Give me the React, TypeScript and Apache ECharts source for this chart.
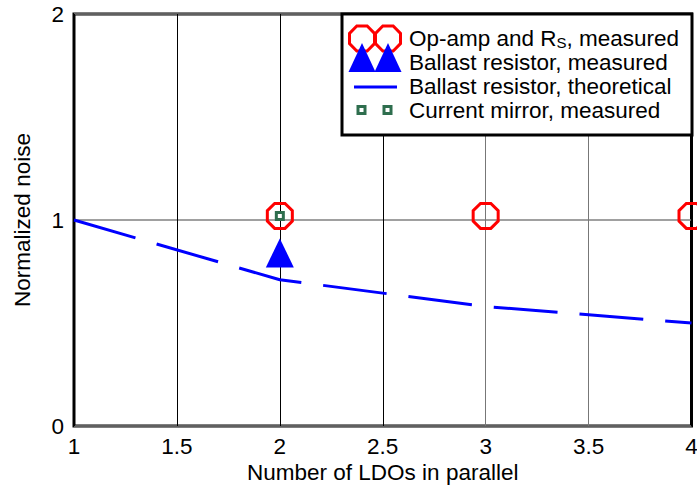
import { useEffect, useRef } from "react";
import * as echarts from "echarts";

// ---- data ----
const xMin = 1;
const xMax = 4;
const xInterval = 0.5;
const yMin = 0;
const yMax = 2;
const yInterval = 1;

const opampX = [2, 3, 4];
const opampY = [1.02, 1.02, 1.02];

const ballastMeasX = [2];
const ballastMeasY = [0.84];

const ballastTheoX = [1, 2, 3, 4];
const ballastTheoY = [1.0, 0.71, 0.58, 0.5];

const mirrorX = [2];
const mirrorY = [1.02];

const seriesNames = [
  "Op-amp and RS, measured",
  "Ballast resistor, measured",
  "Ballast resistor, theoretical",
  "Current mirror, measured",
];
const legendTexts = [
  "{a|Op-amp and R}{s|S}{a|, measured}",
  "Ballast resistor, measured",
  "Ballast resistor, theoretical",
  "Current mirror, measured",
];

const xName = "Number of LDOs in parallel";
const yName = "Normalized noise";

const FONT = "'Liberation Sans', Arial, sans-serif";
const FS = 22.5;
const RED = "#ff0000";
const BLUE = "#0000ff";
const GREEN = "#2e6e4e";

const OCTAGON =
  "path://M29.3,0 L70.7,0 L100,29.3 L100,70.7 L70.7,100 L29.3,100 L0,70.7 L0,29.3 Z";

function octPoints(cx: number, cy: number, d: number) {
  const h = d / 2;
  const k = h * 0.414;
  return [
    [cx - k, cy - h],
    [cx + k, cy - h],
    [cx + h, cy - k],
    [cx + h, cy + k],
    [cx + k, cy + h],
    [cx - k, cy + h],
    [cx - h, cy + k],
    [cx - h, cy - k],
  ];
}

function zip(xs: number[], ys: number[]) {
  return xs.map((x, i) => [x, ys[i]]);
}

export default function App() {
  const ref = useRef<HTMLDivElement>(null);

  useEffect(() => {
    if (!ref.current) return;
    const chart = echarts.init(ref.current, undefined, { renderer: "svg" });

    const legendX = 342;
    const legendY = 14;
    const iconA = 362;
    const iconB = 388;
    const rowY = [38, 62, 86, 110];
    const textX = 409;

    const graphics: any[] = [
      {
        type: "rect",
        z: 100,
        shape: { x: legendX, y: legendY, width: 350, height: 121 },
        style: { fill: "#ffffff", stroke: "#000000", lineWidth: 3 },
      },
      ...[iconA, iconB].map((cx) => ({
        type: "polygon",
        z: 101,
        shape: { points: octPoints(cx, 38.5, 25) },
        style: { fill: "none", stroke: RED, lineWidth: 3 },
      })),
      ...[iconA, iconB].map((cx) => ({
        type: "polygon",
        z: 102,
        shape: {
          points: [
            [cx, 43],
            [cx - 13.5, 72],
            [cx + 13.5, 72],
          ],
        },
        style: { fill: BLUE },
      })),
      {
        type: "line",
        z: 101,
        shape: { x1: 354, y1: 87, x2: 397, y2: 87 },
        style: { stroke: BLUE, lineWidth: 3 },
      },
      ...[iconA - 0.5, iconB - 0.5].map((cx) => ({
        type: "rect",
        z: 101,
        shape: { x: cx - 3.5, y: 110 - 3.5, width: 7, height: 7 },
        style: { fill: "#ffffff", stroke: GREEN, lineWidth: 3 },
      })),
      ...legendTexts.map((t, i) => ({
        type: "text",
        z: 103,
        x: textX,
        y: rowY[i],
        style: {
          text: t,
          fill: "#000000",
          fontSize: FS,
          fontFamily: FONT,
          verticalAlign: "middle",
          align: "left",
          rich: {
            a: { fontSize: FS, fontFamily: FONT, fill: "#000000", lineHeight: 23 },
            s: {
              fontSize: 15,
              fontFamily: FONT,
              fill: "#000000",
              lineHeight: 12,
              verticalAlign: "bottom",
            },
          },
        },
      })),
    ];

    chart.setOption({
      animation: false,
      backgroundColor: "#ffffff",
      grid: {
        left: 74,
        right: 5.5,
        top: 14,
        bottom: 60,
        containLabel: false,
        outerBoundsMode: "none",
        show: true,
        borderColor: "#000000",
        borderWidth: 3,
        backgroundColor: "transparent",
      },
      xAxis: {
        type: "value",
        min: xMin,
        max: xMax,
        interval: xInterval,
        name: xName,
        nameLocation: "middle",
        nameGap: 36,
        nameMoveOverlap: false,
        nameTextStyle: {
          fontSize: FS,
          fontFamily: FONT,
          color: "#000",
          lineHeight: 20,
        },
        axisLine: { show: false },
        axisTick: { show: false },
        axisLabel: {
          fontSize: FS,
          fontFamily: FONT,
          color: "#000",
          margin: 10,
          lineHeight: 20,
        },
        splitLine: {
          show: true,
          lineStyle: {
            color: ["#000", "#000", "#000", "#000", "#777", "#777", "#000"],
            width: 1,
          },
        },
      },
      yAxis: {
        type: "value",
        min: yMin,
        max: yMax,
        interval: yInterval,
        name: yName,
        nameLocation: "middle",
        nameGap: 40,
        nameMoveOverlap: false,
        nameTextStyle: { fontSize: FS, fontFamily: FONT, color: "#000" },
        axisLine: { show: false },
        axisTick: { show: false },
        axisLabel: { fontSize: FS, fontFamily: FONT, color: "#000", margin: 10 },
        splitLine: { show: true, lineStyle: { color: "#808080", width: 1.5 } },
      },
      graphic: graphics,
      series: [
        {
          name: seriesNames[2],
          type: "line",
          data: zip(ballastTheoX, ballastTheoY),
          showSymbol: false,
          symbol: "none",
          z: 2,
          lineStyle: { color: BLUE, width: 3, type: [64, 22], cap: "butt" },
        },
        {
          name: seriesNames[1],
          type: "scatter",
          data: zip(ballastMeasX, ballastMeasY),
          symbol: "triangle",
          symbolSize: [28, 29],
          clip: false,
          z: 3,
          itemStyle: { color: BLUE, opacity: 1 },
        },
        {
          name: seriesNames[0],
          type: "scatter",
          data: zip(opampX, opampY),
          symbol: OCTAGON,
          symbolSize: 25,
          clip: false,
          z: 4,
          itemStyle: {
            color: "transparent",
            borderColor: RED,
            borderWidth: 3,
            opacity: 1,
          },
        },
        {
          name: seriesNames[3],
          type: "scatter",
          data: zip(mirrorX, mirrorY),
          symbol: "rect",
          symbolSize: 7,
          clip: false,
          z: 5,
          itemStyle: {
            color: "#ffffff",
            borderColor: GREEN,
            borderWidth: 3,
            opacity: 1,
          },
        },
      ],
    });

    return () => {
      chart.dispose();
    };
  }, []);

  return (
    <div
      ref={ref}
      style={{ position: "fixed", left: 0, top: 0, width: 697, height: 486 }}
    />
  );
}
